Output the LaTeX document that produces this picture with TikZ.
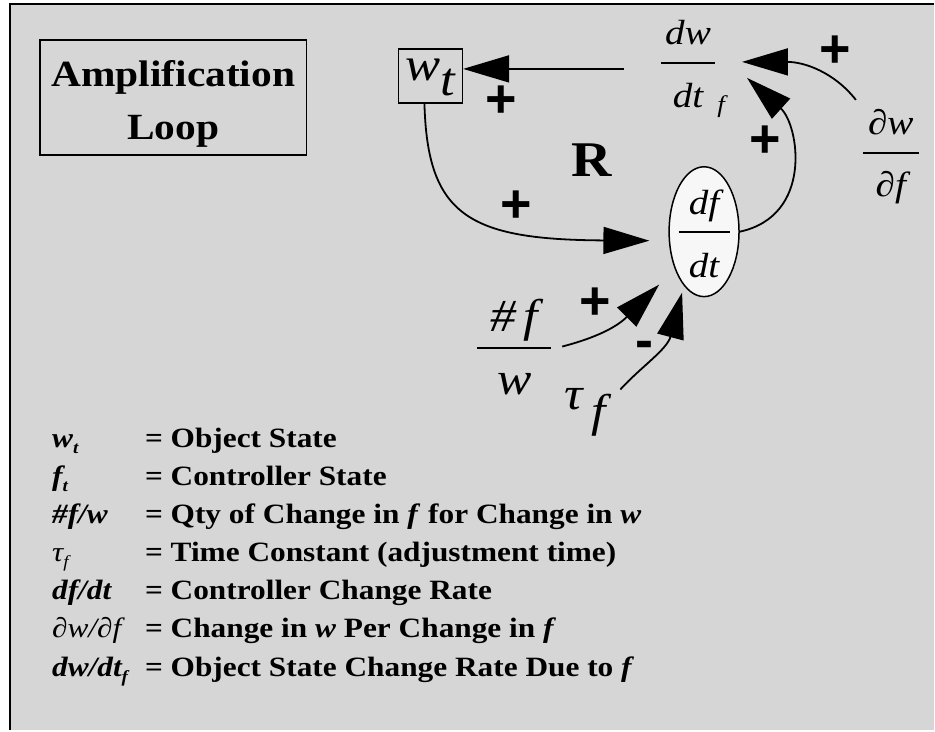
\documentclass[tikz,border=0pt]{standalone}
\usepackage{fontspec}
\setmainfont{Liberation Serif}[FakeStretch=1.12]
\newfontfamily\signfont{Liberation Sans}
\usepackage{xcolor}
\usetikzlibrary{arrows.meta,shapes.geometric}

\definecolor{panel}{gray}{0.84}
\definecolor{bubble}{gray}{0.97}

% stacked fraction centred on its bar: bar width, rise, drop, top, bottom
\newcommand\vfrac[5]{%
  \makebox[0pt]{\raisebox{-#3}[0pt][0pt]{\vbox{\offinterlineskip
    \hbox to #1{\hss\smash{#4}\hss}%
    \kern\dimexpr#2-1pt\relax
    \hrule height 2pt
    \kern\dimexpr#3-1pt\relax
    \hbox to #1{\hss\smash{#5}\hss}}}}}
\newcommand\lsub[1]{\raisebox{-6pt}{\fontsize{17}{17}\selectfont #1}}

\begin{document}
\begin{tikzpicture}[
    x=1pt, y=-1pt,
    arr/.style={line width=1.8pt, -{Triangle[length=46pt,width=27pt]}},
    titlebox/.style={draw, line width=1.5pt, minimum width=267pt, minimum height=115pt, align=center, font=\fontsize{37}{53}\selectfont\bfseries},
    statebox/.style={draw, line width=1.5pt, minimum width=64pt, minimum height=54pt, inner sep=0pt, font=\fontsize{47}{50}\selectfont\itshape},
    ratebub/.style={ellipse, draw, line width=1.5pt, fill=bubble, minimum width=70pt, minimum height=130pt, inner sep=0pt},
    frac/.style={inner sep=0pt, font=\fontsize{35}{42}\selectfont\itshape},
    bigfrac/.style={inner sep=0pt, font=\fontsize{46}{52}\selectfont\itshape},
    sign/.style={inner sep=0pt, font=\fontsize{54}{54}\signfont\bfseries},
    legendtext/.style={inner sep=0pt, align=left, font=\fontsize{28}{38.2}\selectfont\bfseries},
]

% Panel
\fill[white] (0,0) rectangle (935,731);
\fill[panel] (10,4) rectangle (935,731);
\draw[line width=2.5pt] (10,731) -- (10,4) -- (935,4);
\useasboundingbox (0,0) rectangle (935,731);

% Title
\node[titlebox, text height=85pt, text depth=0pt] (title) at (173.5,97.5) {Amplification\\Loop};

% Stock and rates
\node[statebox, text height=25pt, text depth=15pt] (wt) at (431,76) {w\raisebox{-15pt}{t}};
\node[frac] (dwdt) at (689,63) {\vfrac{54pt}{18pt}{45pt}{dw}{dt\rlap{\kern14pt\raisebox{-5pt}{\fontsize{24}{24}\selectfont f}}}};
\node[frac] (dpdf) at (892,153) {\vfrac{56pt}{18pt}{44pt}{∂w}{∂f}};
\node[ratebub, font=\fontsize{35}{42}\selectfont\itshape] (dfdt) at (705,232) {\vfrac{51pt}{17pt}{46pt}{df}{dt}};

% Inputs to the rate
\node[bigfrac] (nfw) at (515,348) {\vfrac{74pt}{16pt}{47pt}{\#\,f}{w}};
\node[inner sep=0pt, anchor=base west, font=\fontsize{46}{50}\selectfont\itshape] (tauf) at (565,410) {τ\kern9pt\raisebox{-17pt}{f}};

% Loop marker
\node[font=\fontsize{50}{50}\selectfont\bfseries] (loopR) at (592,160) {R};

% Polarities
\node[sign] (plusFlow) at (502,102) {+};
\node[sign] (plusTop) at (836,52) {+};
\node[sign] (plusRate) at (766,142) {+};
\node[sign] (plusState) at (517,207) {+};
\node[sign] (plusQty) at (596,304) {+};
\node[sign] (minusTau) at (645,350) {-};

% Edges
\draw[arr] ([shift={(-64,6)}]dwdt.center) -- ([shift={(0,-7)}]wt.east);
\draw[arr] ([shift={(-35,-53)}]dpdf.center) .. controls +(-22,-28) and +(62,0) .. ([shift={(54,-1)}]dwdt.center);
\draw[arr] (dfdt.east) .. controls +(74,-16) and +(52,47) .. ([shift={(59,15)}]dwdt.center);
\draw[arr] ([xshift=-6pt]wt.south) .. controls +(3,112) and +(-181,-1) .. ([shift={(-19,9)}]dfdt.west);
\draw[arr] ([shift={(48,-1)}]nfw.center) .. controls +(27,-7) and +(-45,45) .. ([shift={(-45,53)}]dfdt.center);
\draw[arr] ([shift={(14,-20)}]tauf.base east) .. controls +(20,-22) and +(-15,57) .. ([shift={(-22,61)}]dfdt.center);

% Legend (base anchor sits on the last line)
\node[legendtext, anchor=base west] (legend) at (52,677) {%
  \makebox[93pt][l]{\textit{w\lsub{t}}}= Object State\\
  \makebox[93pt][l]{\textit{f\lsub{t}}}= Controller State\\
  \makebox[93pt][l]{\textit{\#f/w}}= Qty of Change in \textit{f} for Change in \textit{w}\\
  \makebox[93pt][l]{\mdseries\textit{τ\lsub{f}}}= Time Constant (adjustment time)\\
  \makebox[93pt][l]{\textit{df/dt}}= Controller Change Rate\\
  \makebox[93pt][l]{\mdseries\textit{∂w/∂f}}= Change in \textit{w} Per Change in \textit{f}\\
  \makebox[93pt][l]{\textit{dw/dt\lsub{f}}}= Object State Change Rate Due to \textit{f}};

\end{tikzpicture}
\end{document}
